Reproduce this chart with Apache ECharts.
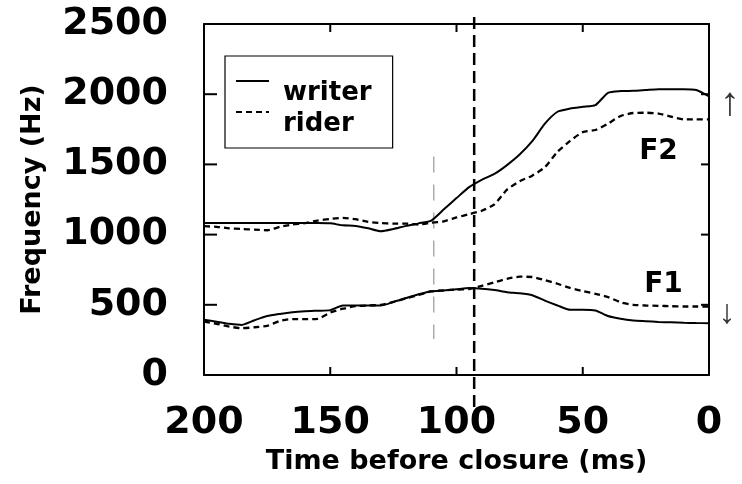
<!DOCTYPE html>
<html>
<head>
<meta charset="utf-8">
<script src="https://cdn.jsdelivr.net/npm/echarts@6/dist/echarts.min.js"></script>
<style>
html,body{margin:0;padding:0;background:#fff;}
#chart{width:742px;height:484px;}
</style>
</head>
<body>
<div id="chart"></div>
<script>
// Time before closure (ms), read every 5 ms from 200 down to 0
const times = [200,195,190,185,180,175,170,165,160,155,150,145,140,135,130,125,120,115,110,105,100,95,90,85,80,75,70,65,60,55,50,45,40,35,30,25,20,15,10,5,0];
// F2 (Hz)
const writerF2 = [1083,1083,1083,1083,1083,1083,1083,1083,1083,1083,1080,1066,1062,1045,1024,1040,1062,1080,1100,1180,1260,1338,1390,1432,1495,1570,1665,1790,1875,1898,1910,1922,2010,2022,2024,2030,2036,2036,2036,2030,1985];
const riderF2  = [1060,1055,1045,1040,1035,1031,1055,1072,1082,1100,1112,1119,1110,1090,1082,1078,1078,1072,1085,1095,1122,1145,1170,1215,1320,1380,1420,1480,1590,1667,1730,1745,1790,1845,1866,1868,1862,1840,1820,1821,1821];
// F1 (Hz)
const writerF1 = [393,380,365,357,390,420,435,447,454,458,462,495,495,495,495,520,548,575,597,602,610,619,615,605,590,582,568,530,495,464,464,460,420,400,388,383,378,375,372,370,369];
const riderF1  = [381,365,345,333,340,350,385,398,398,400,445,472,490,495,500,520,545,570,595,603,608,612,635,660,685,700,698,675,650,620,598,578,555,518,500,495,493,490,488,488,488];
// Reference lines: [time, fromHz, toHz]
const closureLine = [[93, 2550, -390]];
const pencilLine = [[109, 1557, 257]];
const seriesNames = ['writer', 'rider'];
const yTicks = {min: 0, max: 2500, step: 500};
const xTicks = {min: 0, max: 200, step: 50};
const yTickValues = [0, 500, 1000, 1500, 2000, 2500];
const xTickValues = [0, 50, 100, 150, 200];

const pair = arr => times.map((t, i) => [t, arr[i]]);
const BOLD = 'DejaVu Sans';

const chart = echarts.init(document.getElementById('chart'), null, {renderer: 'canvas'});

function vline(color, width, dash) {
  return function (params, api) {
    const p1 = api.coord([api.value(0), api.value(1)]);
    const p2 = api.coord([api.value(0), api.value(2)]);
    return {type: 'line', shape: {x1: p1[0], y1: p1[1], x2: p2[0], y2: p2[1]},
      style: {stroke: color, lineWidth: width, lineDash: dash}};
  };
}

const seg = (x1, y1, x2, y2) => ({type: 'line', shape: {x1, y1, x2, y2}, style: {stroke: '#000', lineWidth: 2}});

// inner tick marks on all four sides of the frame, placed through the axes' scales
function tickMarks(params, api) {
  const kind = api.value(2);
  if (kind === 0) {
    const v = api.value(1);
    const a = api.coord([xTicks.max, v]);   // left edge (axis is inverted)
    const b = api.coord([xTicks.min, v]);   // right edge
    return {type: 'group', children: [seg(a[0], a[1], a[0] + 13, a[1]), seg(b[0] - 8, b[1], b[0], b[1])]};
  }
  const v = api.value(0);
  const a = api.coord([v, yTicks.max]);     // top edge
  const b = api.coord([v, yTicks.min]);     // bottom edge
  return {type: 'group', children: [seg(a[0], a[1], a[0], a[1] + 8), seg(b[0], b[1] - 8, b[0], b[1])]};
}
const tickData = yTickValues.map(v => [xTicks.min, v, 0]).concat(xTickValues.map(v => [v, yTicks.min, 1]));

const axisLine = {show: true, onZero: false, lineStyle: {color: '#000', width: 2}};
const tickLabel = {fontSize: 38, fontWeight: 'bold', fontFamily: BOLD, color: '#000', formatter: v => String(v)};

const fLabel = (txt) => ({
  show: true, position: 'inside', formatter: txt,
  fontSize: 28, fontWeight: 'bold', fontFamily: BOLD, color: '#000'
});

chart.setOption({
  animation: false,
  backgroundColor: '#fff',
  grid: {left: 204, right: 33, top: 24, bottom: 109},
  legend: {
    data: seriesNames,
    orient: 'vertical',
    left: 225, top: 56,
    padding: [0, 21, 11, 10],
    itemWidth: 33, itemHeight: 14, itemGap: -19,
    borderColor: '#000', borderWidth: 1.2,
    itemStyle: {opacity: 0},
    formatter: name => '{t|' + name + '}',
    textStyle: {
      rich: {t: {fontSize: 26, fontWeight: 'bold', fontFamily: BOLD, color: '#000', lineHeight: 26, padding: [24, 0, 0, 9]}}
    },
    selectedMode: false
  },
  xAxis: [{
    type: 'value', min: xTicks.min, max: xTicks.max, interval: xTicks.step, inverse: true,
    position: 'bottom',
    axisLine: axisLine,
    axisTick: {show: false},
    axisLabel: Object.assign({margin: 29}, tickLabel),
    splitLine: {show: false},
    name: 'Time before closure (ms)', nameLocation: 'middle', nameGap: 73,
    nameTextStyle: {fontSize: 27, fontWeight: 'bold', fontFamily: BOLD, color: '#000'}
  }, {
    type: 'value', min: xTicks.min, max: xTicks.max, interval: xTicks.step, inverse: true,
    position: 'top',
    axisLine: axisLine,
    axisTick: {show: false},
    axisLabel: {show: false},
    splitLine: {show: false}
  }],
  yAxis: [{
    type: 'value', min: yTicks.min, max: yTicks.max, interval: yTicks.step,
    position: 'left',
    axisLine: axisLine,
    axisTick: {show: false},
    axisLabel: Object.assign({margin: 36}, tickLabel),
    splitLine: {show: false},
    name: 'Frequency (Hz)', nameLocation: 'middle', nameGap: 158,
    nameTextStyle: {fontSize: 27, fontWeight: 'bold', fontFamily: BOLD, color: '#000'}
  }, {
    type: 'value', min: yTicks.min, max: yTicks.max, interval: yTicks.step,
    position: 'right',
    axisLine: axisLine,
    axisTick: {show: false},
    axisLabel: {show: false},
    splitLine: {show: false}
  }],
  series: [
    {
      name: seriesNames[0], type: 'line', data: pair(writerF2), symbol: 'none', smooth: 0.2,
      lineStyle: {color: '#000', width: 2}, itemStyle: {color: '#000'}, z: 3,
      markPoint: {
        symbol: 'rect', symbolSize: 1, itemStyle: {color: 'rgba(0,0,0,0)'}, silent: true,
        data: [{coord: [20, 1593], label: fLabel('F2')}]
      }
    },
    {
      name: seriesNames[1], type: 'line', data: pair(riderF2), symbol: 'none', smooth: 0.2,
      lineStyle: {color: '#000', width: 2.3, type: [6, 4]}, itemStyle: {color: '#000'}, z: 3
    },
    {
      name: seriesNames[0], type: 'line', data: pair(writerF1), symbol: 'none', smooth: 0.2,
      lineStyle: {color: '#000', width: 2}, itemStyle: {color: '#000'}, z: 3,
      markPoint: {
        symbol: 'rect', symbolSize: 1, itemStyle: {color: 'rgba(0,0,0,0)'}, silent: true,
        data: [{coord: [18, 643], label: fLabel('F1')}]
      }
    },
    {
      name: seriesNames[1], type: 'line', data: pair(riderF1), symbol: 'none', smooth: 0.2,
      lineStyle: {color: '#000', width: 2.3, type: [6, 4]}, itemStyle: {color: '#000'}, z: 3
    },
    {
      type: 'custom', name: 'closure', data: closureLine, encode: {x: 0, y: 1},
      renderItem: vline('#000', 2.5, [12, 6]), silent: true, z: 4
    },
    {
      type: 'custom', name: 'pencil', data: pencilLine, encode: {x: 0, y: 1},
      renderItem: vline('#999', 1.2, [16, 12]), silent: true, z: 2
    },
    {
      type: 'custom', name: 'ticks', data: tickData, encode: {x: 0, y: 1},
      renderItem: tickMarks, silent: true, z: 5
    }
  ],
  graphic: [
    {type: 'text', x: 730, y: 104, style: {text: '↑', fontSize: 40, fontFamily: 'Liberation Sans', fill: '#333', align: 'center', verticalAlign: 'middle'}},
    {type: 'text', x: 727, y: 314, style: {text: '↓', fontSize: 34, fontFamily: 'Liberation Sans', fill: '#333', align: 'center', verticalAlign: 'middle'}}
  ]
});
</script>
</body>
</html>
